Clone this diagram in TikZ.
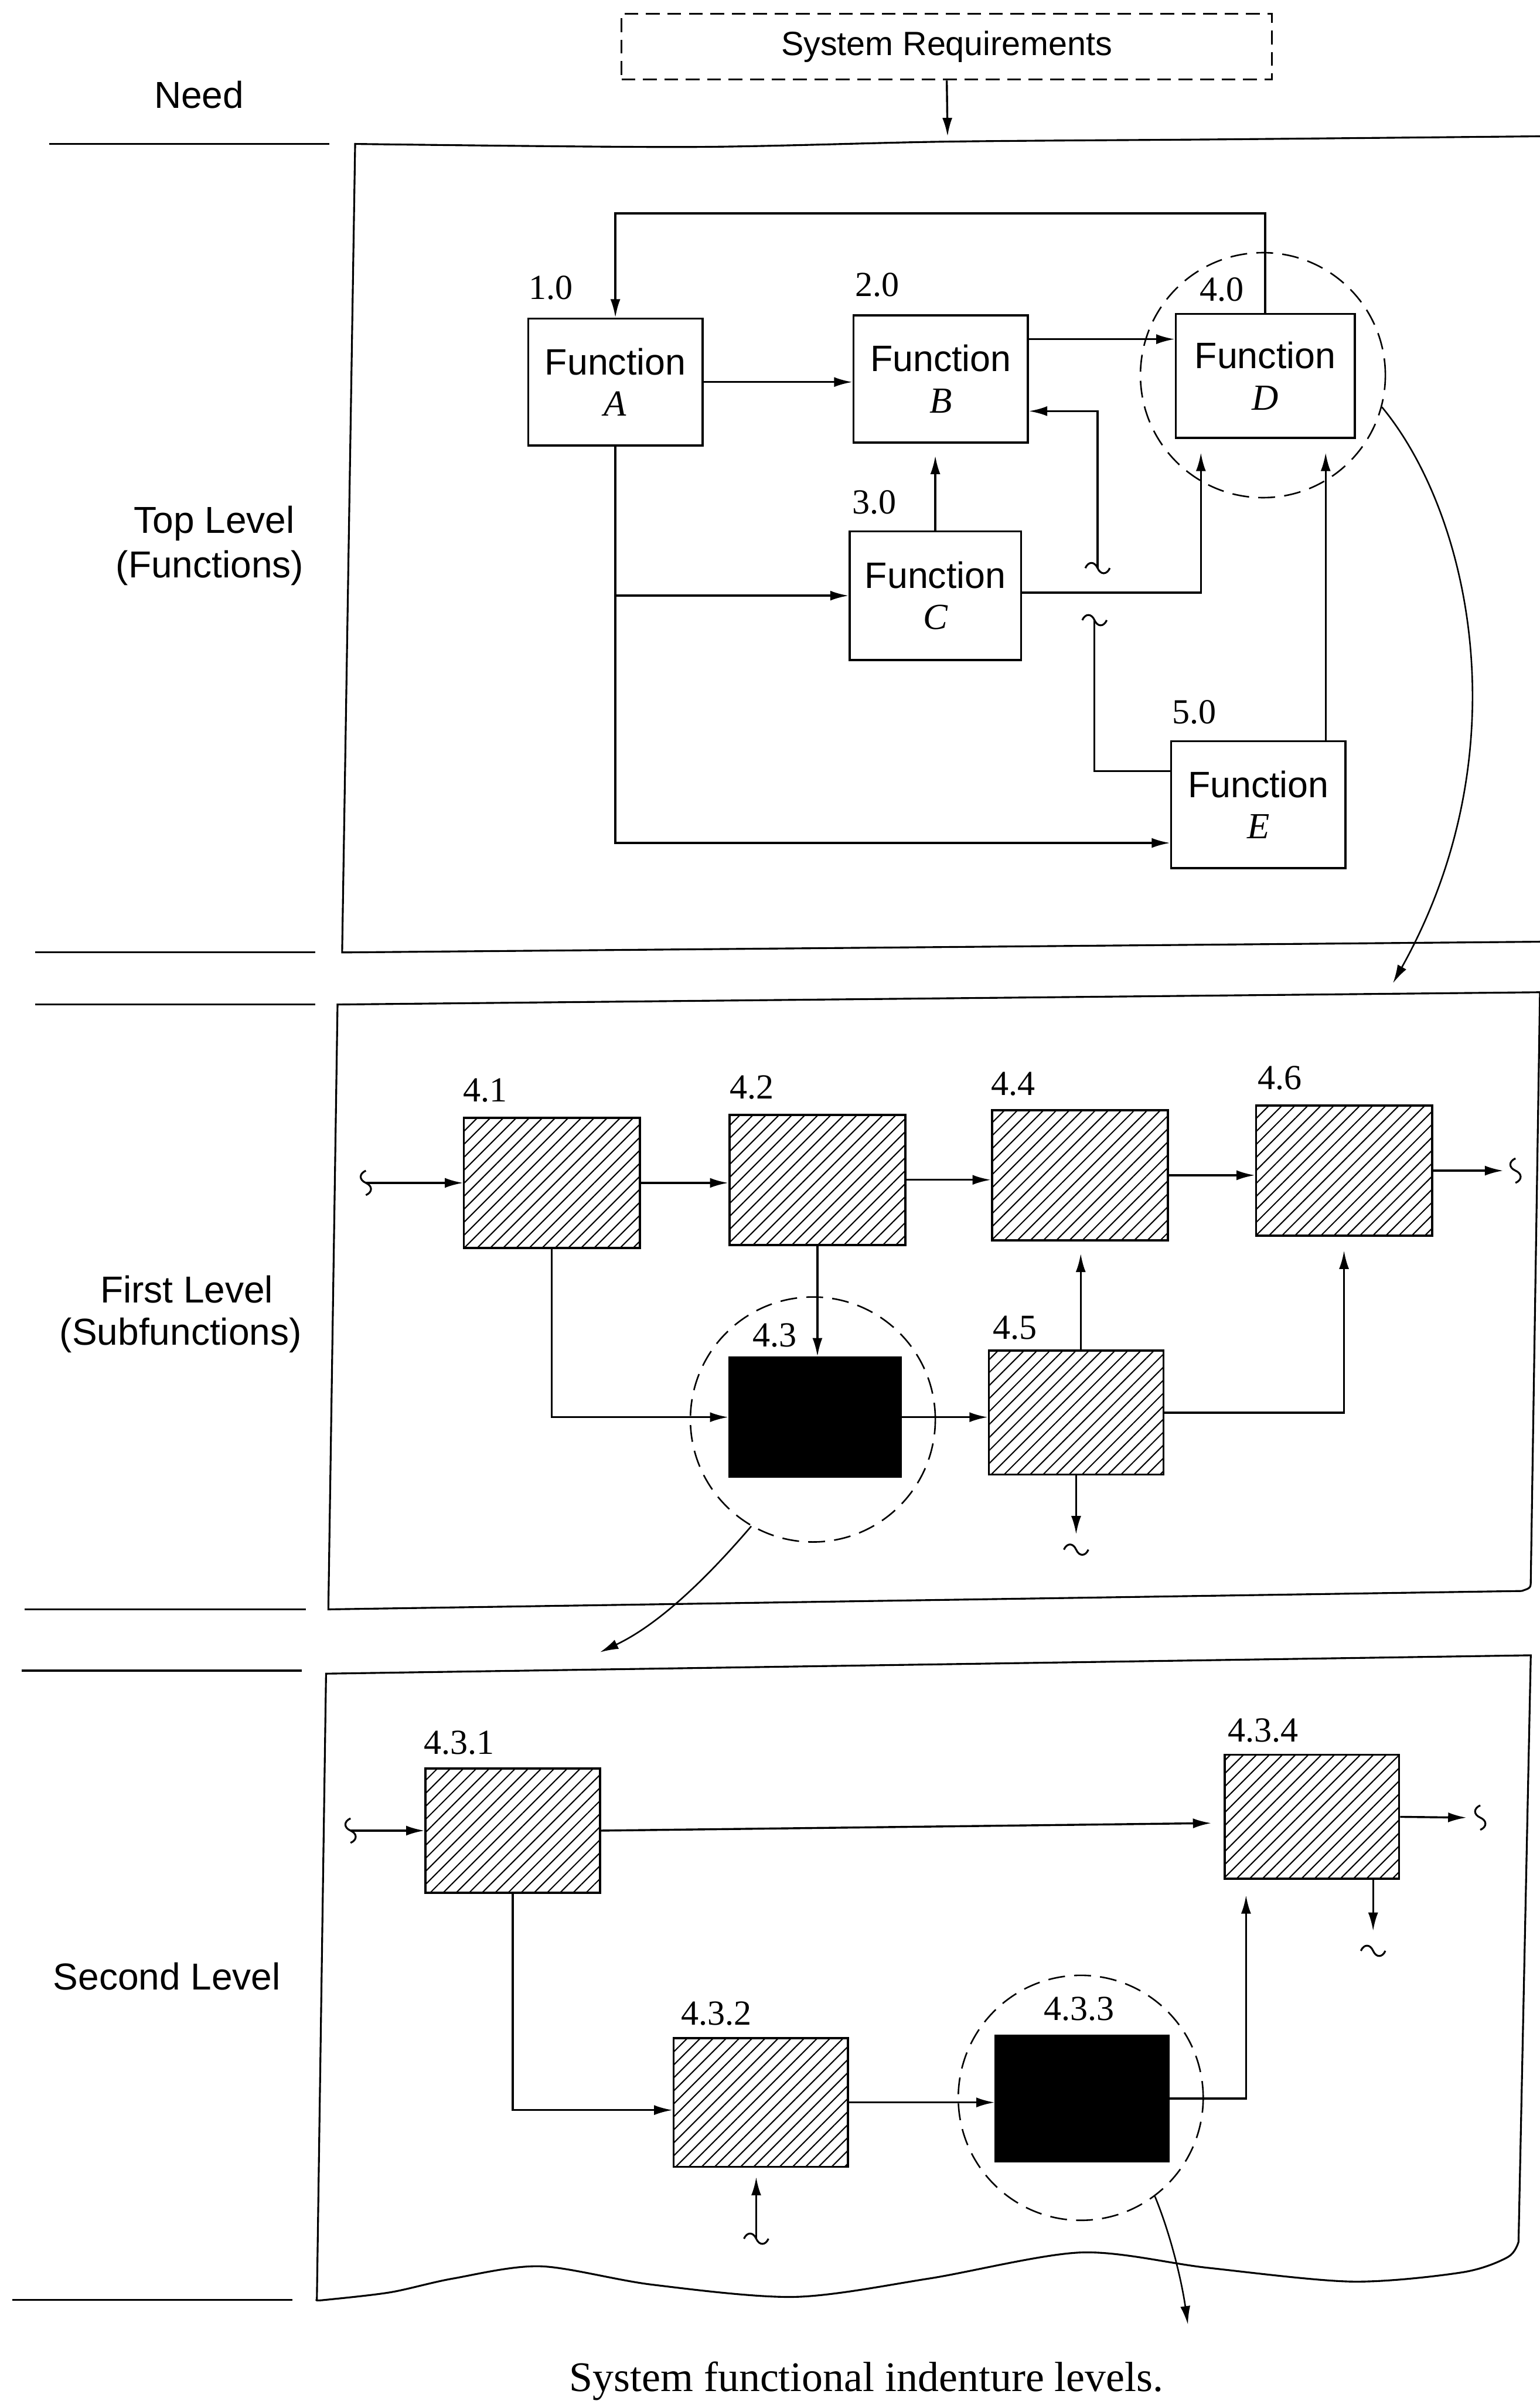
\documentclass[tikz,border=0pt]{standalone}
\usepackage{fontspec}
\setmainfont{Liberation Sans}
\newfontfamily\numfont{Liberation Serif}
\usetikzlibrary{arrows.meta,calc,patterns.meta}
\tikzset{
  fbox/.style={draw, line width=1.3pt, minimum width=114pt, minimum height=83pt, inner sep=0pt, align=center, font=\fontsize{24}{27}\selectfont},
  hbox/.style={draw, line width=1.4pt, minimum width=115pt, minimum height=85pt, inner sep=0pt, pattern={Lines[angle=45,distance=6pt,line width=0.8pt]}},
  bbox/.style={draw, fill=black, minimum width=114pt, minimum height=81pt, inner sep=0pt},
  lbl/.style={font=\numfont\fontsize{23}{23}\selectfont, inner sep=0pt},
  side/.style={font=\fontsize{24.5}{27}\selectfont, inner sep=0pt},
  conn/.style={line width=1.3pt},
  arr/.style={conn, -{Latex[length=12pt,width=6.5pt]}},
  dcirc/.style={draw, circle, dash pattern=on 11pt off 6pt, line width=1pt, minimum size=160pt, inner sep=0pt},
  panel/.style={line width=1.2pt},
  htil/.pic={\draw[line width=1.2pt] (-8,0) .. controls (-6,-4.5) and (-2,-4.5) .. (0,0) .. controls (2,4.5) and (6,4.5) .. (8,0);},
  vtil/.pic={\draw[line width=1.2pt] (0,-8) .. controls (-4.5,-6) and (-4.5,-2) .. (0,0) .. controls (4.5,2) and (4.5,6) .. (0,8);}
}
\begin{document}
\begin{tikzpicture}[x=1pt,y=-1pt]
\useasboundingbox (0,0) rectangle (1006,1568);

% ---------- header ----------
\node[draw, dash pattern=on 9pt off 5pt, line width=1.2pt, minimum width=425pt, minimum height=43pt, inner sep=0pt,
      font=\fontsize{22}{24}\selectfont] (sreq) at (618.5,30.5) {System Requirements};
\node[side] (need) at (130,62) {Need};
\coordinate (p1in) at (619,89);
\draw[arr] (sreq.south) -- (p1in);

% ---------- left rules ----------
\draw[panel] (32,94) -- (215,94);
\draw[panel] (23,622) -- (206,622);
\draw[panel] (23,656) -- (206,656);
\draw[panel] (16,1051) -- (200,1051);
\draw[panel] (14,1091) -- (197,1091);
\draw[panel] (8,1502) -- (191,1502);

% ---------- side labels ----------
\node[side] (tl1) at (140,342) {Top Level};
\node[side] (tl2) at (137,371) {(Functions)};
\node[side] (fl1) at (122,842) {First Level};
\node[side] (fl2) at (118,872) {(Subfunctions)};
\node[side] (sl) at (109,1290.5) {Second Level};

% ---------- panels ----------
\draw[panel] plot[smooth] coordinates {(1006,89) (800,91) (618,92.5) (449,96) (232,94)} -- (223.5,622) -- (1006,615);
\draw[panel] (220.5,656) -- (1006,648) -- (1000,1032) .. controls (1000,1037) .. (994,1039) -- (214.5,1051) -- cycle;
\draw[panel] (213,1093) -- (1000,1081) -- (992,1464) -- plot[smooth] coordinates {(992,1464) (985,1474) (955,1484) (883,1490) (789,1481) (706,1471) (607,1488) (519,1500) (426,1492) (353,1480) (296,1488) (255,1497) (212,1502) (207,1502)} -- cycle;

% ---------- top level ----------
\node[dcirc] (cD) at (825,245) {};
\node[fbox] (A) at (402,249.5) {Function\\{\numfont\itshape A}};
\node[fbox] (B) at (614.5,247.5) {Function\\{\numfont\itshape B}};
\node[fbox, minimum height=84pt, minimum width=112pt] (C) at (611,389) {Function\\{\numfont\itshape C}};
\node[fbox, minimum width=117pt, minimum height=81pt] (D) at (826.5,245.5) {Function\\{\numfont\itshape D}};
\node[fbox] (E) at (822,525.5) {Function\\{\numfont\itshape E}};
\node[lbl] (l10) at (360,188) {1.0};
\node[lbl] (l20) at (573,186) {2.0};
\node[lbl] (l30) at (571,328) {3.0};
\node[lbl] (l40) at (798,189) {4.0};
\node[lbl] (l50) at (780,465) {5.0};

\draw[arr] (D.north) -- ++(0,-65) -| (A.north);
\draw[arr] (A.east) -- (A.east -| B.west);
\coordinate (bd) at ($(B.east)+(0,-26)$);
\draw[arr] (bd) -- (bd -| D.west);
\draw[arr, shorten >=8pt] (C.north) -- (C.north |- B.south);
\coordinate (t1) at (717,371);
\draw[arr] (t1) |- ($(B.east)+(0,21)$);
\pic at (t1) {htil};
\coordinate (t2) at (715,405);
\draw[conn] ($(E.west)+(0,-22)$) -| (t2);
\pic at (t2) {htil};
\draw[arr, shorten >=9pt] ($(C.east)+(0,-2)$) -| ($(D.south)+(-42,0)$);
\draw[arr, shorten >=9pt] ($(E.north)+(44,0)$) -- ($(D.south)+(39.5,0)$);
\draw[arr] (A.south) |- ($(E.west)+(0,25)$);
\draw[arr] (A.south |- C.west) -- (C.west);
\coordinate (p2in) at (910,642);
\draw[arr, line width=1pt] (cD.-15) .. controls (960,335) and (995,490) .. (p2in);

% ---------- first level ----------
\node[dcirc] (c43) at (531,927) {};
\node[hbox] (n41) at (360.5,772.5) {};
\node[hbox] (n42) at (534,770.5) {};
\node[hbox] (n44) at (705.5,767.5) {};
\node[hbox] (n46) at (878,764.5) {};
\node[bbox, minimum width=113pt, minimum height=79pt] (n43) at (532.5,925.5) {};
\node[hbox, minimum width=114pt, minimum height=81pt] (n45) at (703,922.5) {};
\node[lbl] (l41) at (317,712) {4.1};
\node[lbl] (l42) at (491,710) {4.2};
\node[lbl] (l44) at (662,708) {4.4};
\node[lbl] (l46) at (836,704) {4.6};
\node[lbl] (l43) at (506,872) {4.3};
\node[lbl] (l45) at (663,867) {4.5};

\coordinate (in2) at (239,772.5);
\pic at (in2) {vtil};
\draw[arr] (in2) -- (n41.west);
\draw[arr] (n41.east) -- (n41.east -| n42.west);
\draw[arr] (n42.east) -- (n42.east -| n44.west);
\draw[arr] (n44.east) -- (n44.east -| n46.west);
\coordinate (out2) at (982,764.5);
\draw[arr] (n46.east) -- (out2);
\pic at (990,764.5) {vtil};
\draw[arr] (n41.south) |- (n43.west);
\draw[arr] (n42.south) -- (n42.south |- n43.north);
\draw[arr] (n43.east) -- (n43.east -| n45.west);
\coordinate (u45) at ($(n45.north)+(3,0)$);
\draw[arr, shorten >=8pt] (u45) -- (u45 |- n44.south);
\draw[arr, shorten >=9pt] (n45.east) -| (n46.south);
\coordinate (d45) at (703,1002);
\draw[arr] (n45.south) -- (d45);
\pic at (703,1012) {htil};
\coordinate (p3in) at (392,1079);
\draw[arr, line width=1pt] (c43.-120) .. controls (458,1035) and (428,1062) .. (p3in);

% ---------- second level ----------
\node[dcirc] (c433) at (706,1370) {};
\node[hbox, minimum width=114pt, minimum height=81pt] (n431) at (335,1195.5) {};
\node[hbox, minimum width=114pt, minimum height=81pt] (n434) at (857,1186.5) {};
\node[hbox, minimum width=114pt, minimum height=84pt] (n432) at (497,1373) {};
\node[bbox, minimum width=114pt, minimum height=83pt] (n433) at (707,1370.5) {};
\node[lbl] (l431) at (300,1138) {4.3.1};
\node[lbl] (l434) at (825,1130) {4.3.4};
\node[lbl] (l432) at (468,1315) {4.3.2};
\node[lbl] (l433) at (705,1312) {4.3.3};

\coordinate (in3) at (229,1195.5);
\pic at (in3) {vtil};
\draw[arr] (in3) -- (n431.west);
\draw[arr, shorten >=8pt] (n431.east) -- ($(n434.west)+(0,4)$);
\coordinate (out3) at (958,1187);
\draw[arr] (n434.east) -- (out3);
\pic at (967,1187) {vtil};
\coordinate (d434a) at ($(n434.south)+(40,0)$);
\coordinate (d434b) at (897,1261);
\draw[arr] (d434a) -- (d434b);
\pic at (897,1274) {htil};
\draw[arr] (n431.south) |- ($(n432.west)+(0,5)$);
\draw[arr] (n432.east) -- (n432.east -| n433.west);
\draw[arr, shorten >=10pt] (n433.east) -| ($(n434.south)+(-43,0)$);
\coordinate (u432) at (494,1462);
\pic at (u432) {htil};
\draw[arr, shorten >=6pt] (u432) -- (u432 |- n432.south);
\coordinate (p4in) at (776,1518);
\draw[arr, line width=1pt] (c433.-53) .. controls (765,1460) and (772,1490) .. (p4in);

% ---------- caption ----------
\node[font=\numfont\fontsize{27.5}{30}\selectfont, inner sep=0pt] (cap) at (566,1555) {System functional indenture levels.};
\end{tikzpicture}
\end{document}
